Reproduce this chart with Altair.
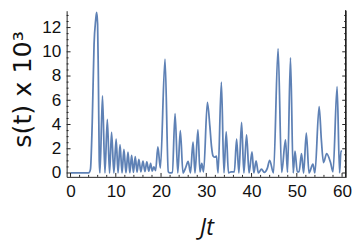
import altair as alt
import pandas as pd

# ---- series (t, s(t) x 10^3) ----
t_vals = [0, 4.0, 4.4, 4.8, 5.2, 5.55, 5.77, 5.98, 6.15, 6.35, 6.5,
          7.06, 7.6, 8.13, 8.62, 9.07, 9.58, 10.08, 10.5, 10.94, 11.38,
          11.8, 12.25, 12.7, 13.1, 13.5, 13.9, 14.3, 14.7, 15.1, 15.55,
          16.0, 16.45, 16.85, 17.3, 17.7, 18.05, 18.4, 18.8, 19.3, 19.85,
          20.88, 21.6, 22.0, 22.5, 23.1, 23.7, 24.26, 24.85, 25.4, 26.0,
          26.5, 27.07, 27.5, 28.15, 28.6, 29.0, 29.4, 30.24, 30.8, 31.15,
          31.5, 31.9, 32.25, 32.6, 33.33, 33.9, 34.4, 34.9, 35.5, 36.2,
          36.7, 37.2, 37.8, 38.3, 38.9, 39.45, 40.1, 40.5, 41.0, 41.5,
          42.2, 42.8, 43.5, 44.0, 44.85, 45.86, 46.65, 47.5, 47.95, 48.6,
          49.2, 49.6, 50.1, 50.5, 51.04, 51.5, 52.1, 52.7, 53.56, 54.0,
          54.93, 55.43, 55.9, 56.6, 57.45, 58.0, 58.9, 59.45, 59.75, 60.0]
s_vals = [0, 0, 0.3, 4.2, 10.6, 12.6, 13.25, 12.3, 8.0, 1.0, 0.0,
          6.37, 0.0, 4.43, 0.0, 3.36, 0.0, 2.8, 0.0, 2.34, 0.0,
          1.94, 0.0, 1.72, 0.02, 1.45, 0.05, 1.35, 0.08, 1.13, 0.1,
          0.97, 0.12, 0.91, 0.15, 0.8, 0.15, 0.5, 0.2, 2.15, 0.4,
          9.4, 0.1, 0.0, 0.05, 4.9, 0.0, 3.5, 0.0, 0.4, 0.95,
          0.0, 2.55, 0.0, 3.55, 0.1, 0.8, 0.1, 5.83, 3.8, 2.2,
          1.4, 1.3, 1.4, 0.0, 7.5, 0.0, 3.4, 0.0, 0.1, 0.1,
          2.8, 0.0, 4.17, 0.0, 3.15, 0.0, 1.75, 0.0, 1.0, 0.0,
          0.32, 0.05, 0.4, 1.05, 0.0, 10.27, 0.05, 2.74, 0.05, 9.52,
          0.0, 1.8, 0.1, 0.1, 1.59, 0.0, 3.28, 0.0, 0.73, 0.0,
          5.48, 2.7, 0.86, 1.6, 0.86, 0.1, 7.12, 0.0, 1.8, 1.8]

# ---- tick values ----
x_major = [0, 10, 20, 30, 40, 50, 60]
x_minor = [v for v in range(0, 61, 2) if v % 10 != 0]
y_major = [0, 2, 4, 6, 8, 10, 12]
y_minor = [v / 2 for v in range(0, 27) if v % 4 != 0]

X_DOMAIN = [-0.86, 60.9]
Y_DOMAIN = [-0.32, 13.39]
W, H = 286, 170

LINE = "#5E81B5"
FRAME = "#222222"

df = pd.DataFrame({"t": t_vals, "s": s_vals})
xs = alt.Scale(domain=X_DOMAIN, nice=False, zero=False)
ys = alt.Scale(domain=Y_DOMAIN, nice=False, zero=False)

x_axis = alt.Axis(
    values=x_major, title="Jt", orient="bottom", grid=False,
    ticks=False, tickSize=0, labelPadding=6, domain=True,
    titleFont="Open Sans", titleFontStyle="italic", titleFontSize=24,
    titleFontWeight="normal", titleBaseline="alphabetic",
    titleY=59, titleAlign="center")
y_axis = alt.Axis(
    values=y_major, title="s(t) x 10³", orient="left", grid=False,
    ticks=False, tickSize=0, labelPadding=6, domain=True,
    titleFont="DejaVu Sans", titleFontSize=26, titleFontWeight="normal",
    titleAngle=270, titleAlign="center", titleBaseline="alphabetic",
    titleX=-37, titleY=80)

line = alt.Chart(df).mark_line(color=LINE, strokeWidth=1.8, interpolate="monotone").encode(
    x=alt.X("t:Q", scale=xs, axis=x_axis),
    y=alt.Y("s:Q", scale=ys, axis=y_axis),
)

ymaj_df = pd.DataFrame({"v": y_major})
ymin_df = pd.DataFrame({"v": y_minor})
xmaj_df = pd.DataFrame({"v": x_major})
xmin_df = pd.DataFrame({"v": x_minor})

right_frame = alt.Chart(ymaj_df).mark_rule(color=FRAME, strokeWidth=1).encode(
    x=alt.value(W - 0.5), y=alt.value(0), y2=alt.value(H),
)

def yticks(d, length, side):
    if side == "left":
        return alt.Chart(d).mark_rule(color=FRAME, strokeWidth=1).encode(
            y=alt.Y("v:Q", scale=ys, axis=y_axis), x=alt.value(0), x2=alt.value(length))
    return alt.Chart(d).mark_rule(color=FRAME, strokeWidth=1).encode(
        y=alt.Y("v:Q", scale=ys, axis=y_axis), x=alt.value(W), x2=alt.value(W - length))

def xticks(d, length):
    return alt.Chart(d).mark_rule(color=FRAME, strokeWidth=1).encode(
        x=alt.X("v:Q", scale=xs, axis=x_axis), y=alt.value(H), y2=alt.value(H - length))

chart = alt.layer(
    line, right_frame,
    yticks(ymaj_df, 4, "left"), yticks(ymin_df, 2, "left"),
    yticks(ymaj_df, 4, "right"), yticks(ymin_df, 2, "right"),
    xticks(xmaj_df, 4), xticks(xmin_df, 2),
).properties(
    width=W, height=H, autosize="none",
    padding={"left": 60, "top": 0, "right": 6, "bottom": 70},
).configure_view(stroke=None).configure_axis(
    grid=False, domainColor=FRAME, domainWidth=1,
    labelFont="Liberation Sans", labelFontSize=17.5, labelColor="#111111",
    titleColor="#111111",
)

chart.save("out.html", embed_options={"renderer": "svg", "actions": False})
